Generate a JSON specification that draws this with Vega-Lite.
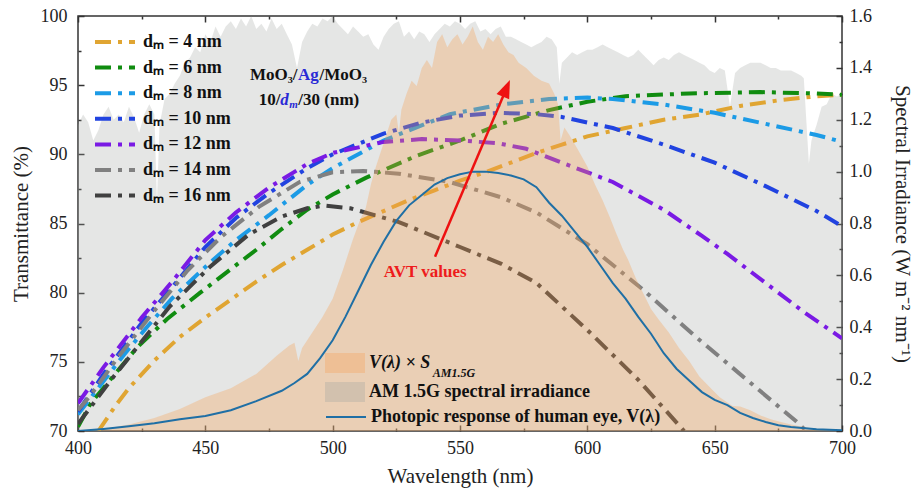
{
"$schema":"https://vega.github.io/schema/vega-lite/v6.json",
"width":764,"height":415,
"autosize":{"type":"none"},
"padding":{"left":78,"top":16,"right":78,"bottom":64},
"background":"white",
"config":{
 "view":{"stroke":"#333","strokeWidth":1.5},
 "font":"Liberation Serif",
 "axis":{"labelFont":"Liberation Serif","labelFontSize":18,"labelColor":"#222","titleFont":"Liberation Serif","titleFontSize":21,"titleFontWeight":"normal","titleColor":"#222","tickColor":"#333","tickWidth":1.5,"grid":false,"domain":false}
},
"datasets":{
 "am":[{"wl":400,"irr":1.18},{"wl":402,"irr":1.22},{"wl":404,"irr":1.19},{"wl":406,"irr":1.12},{"wl":408,"irr":1.16},{"wl":410,"irr":1.22},{"wl":412,"irr":1.25},{"wl":414,"irr":1.2},{"wl":416,"irr":1.22},{"wl":418,"irr":1.19},{"wl":420,"irr":1.25},{"wl":422,"irr":1.21},{"wl":424,"irr":1.15},{"wl":426,"irr":1.22},{"wl":428,"irr":1.26},{"wl":430,"irr":1.22},{"wl":431,"irr":0.88},{"wl":432,"irr":1.18},{"wl":434,"irr":1.28},{"wl":436,"irr":1.3},{"wl":438,"irr":1.34},{"wl":440,"irr":1.37},{"wl":442,"irr":1.42},{"wl":444,"irr":1.44},{"wl":446,"irr":1.48},{"wl":448,"irr":1.46},{"wl":450,"irr":1.53},{"wl":452,"irr":1.5},{"wl":454,"irr":1.56},{"wl":456,"irr":1.52},{"wl":458,"irr":1.56},{"wl":460,"irr":1.58},{"wl":462,"irr":1.55},{"wl":464,"irr":1.59},{"wl":466,"irr":1.56},{"wl":468,"irr":1.6},{"wl":470,"irr":1.55},{"wl":472,"irr":1.57},{"wl":474,"irr":1.54},{"wl":476,"irr":1.59},{"wl":478,"irr":1.55},{"wl":480,"irr":1.57},{"wl":482,"irr":1.53},{"wl":484,"irr":1.49},{"wl":486,"irr":1.4},{"wl":488,"irr":1.5},{"wl":490,"irr":1.54},{"wl":492,"irr":1.57},{"wl":494,"irr":1.56},{"wl":496,"irr":1.59},{"wl":498,"irr":1.58},{"wl":500,"irr":1.6},{"wl":502,"irr":1.57},{"wl":504,"irr":1.55},{"wl":506,"irr":1.53},{"wl":508,"irr":1.56},{"wl":510,"irr":1.54},{"wl":512,"irr":1.52},{"wl":514,"irr":1.53},{"wl":516,"irr":1.49},{"wl":518,"irr":1.47},{"wl":520,"irr":1.52},{"wl":522,"irr":1.55},{"wl":524,"irr":1.57},{"wl":526,"irr":1.58},{"wl":528,"irr":1.52},{"wl":530,"irr":1.54},{"wl":532,"irr":1.51},{"wl":534,"irr":1.54},{"wl":536,"irr":1.53},{"wl":538,"irr":1.5},{"wl":540,"irr":1.53},{"wl":542,"irr":1.55},{"wl":544,"irr":1.57},{"wl":546,"irr":1.56},{"wl":548,"irr":1.58},{"wl":550,"irr":1.57},{"wl":552,"irr":1.55},{"wl":554,"irr":1.57},{"wl":556,"irr":1.58},{"wl":558,"irr":1.54},{"wl":560,"irr":1.55},{"wl":562,"irr":1.53},{"wl":564,"irr":1.55},{"wl":566,"irr":1.56},{"wl":568,"irr":1.52},{"wl":570,"irr":1.52},{"wl":572,"irr":1.51},{"wl":574,"irr":1.5},{"wl":576,"irr":1.49},{"wl":578,"irr":1.48},{"wl":580,"irr":1.49},{"wl":582,"irr":1.5},{"wl":584,"irr":1.52},{"wl":586,"irr":1.51},{"wl":588,"irr":1.48},{"wl":589,"irr":1.34},{"wl":590,"irr":1.42},{"wl":592,"irr":1.44},{"wl":594,"irr":1.46},{"wl":596,"irr":1.45},{"wl":598,"irr":1.46},{"wl":600,"irr":1.47},{"wl":602,"irr":1.47},{"wl":604,"irr":1.48},{"wl":606,"irr":1.49},{"wl":608,"irr":1.48},{"wl":610,"irr":1.47},{"wl":612,"irr":1.46},{"wl":614,"irr":1.45},{"wl":616,"irr":1.44},{"wl":618,"irr":1.45},{"wl":620,"irr":1.47},{"wl":622,"irr":1.45},{"wl":624,"irr":1.43},{"wl":626,"irr":1.41},{"wl":628,"irr":1.43},{"wl":630,"irr":1.44},{"wl":632,"irr":1.43},{"wl":634,"irr":1.45},{"wl":636,"irr":1.46},{"wl":638,"irr":1.45},{"wl":640,"irr":1.44},{"wl":642,"irr":1.43},{"wl":644,"irr":1.42},{"wl":646,"irr":1.41},{"wl":648,"irr":1.39},{"wl":650,"irr":1.38},{"wl":652,"irr":1.4},{"wl":654,"irr":1.39},{"wl":656,"irr":1.25},{"wl":658,"irr":1.38},{"wl":660,"irr":1.4},{"wl":662,"irr":1.41},{"wl":664,"irr":1.42},{"wl":666,"irr":1.42},{"wl":668,"irr":1.42},{"wl":670,"irr":1.41},{"wl":672,"irr":1.4},{"wl":674,"irr":1.4},{"wl":676,"irr":1.39},{"wl":678,"irr":1.39},{"wl":680,"irr":1.39},{"wl":682,"irr":1.38},{"wl":684,"irr":1.37},{"wl":685,"irr":1.36},{"wl":687,"irr":1.03},{"wl":688,"irr":1.12},{"wl":690,"irr":1.18},{"wl":692,"irr":1.25},{"wl":694,"irr":1.26},{"wl":696,"irr":1.3},{"wl":698,"irr":1.29},{"wl":700,"irr":1.3}],
 "vs":[{"wl":400,"v":0.002},{"wl":410,"v":0.008},{"wl":420,"v":0.025},{"wl":430,"v":0.05},{"wl":440,"v":0.085},{"wl":450,"v":0.13},{"wl":460,"v":0.165},{"wl":470,"v":0.22},{"wl":478,"v":0.29},{"wl":483,"v":0.33},{"wl":485,"v":0.34},{"wl":486.5,"v":0.27},{"wl":488,"v":0.32},{"wl":492,"v":0.38},{"wl":496,"v":0.44},{"wl":500,"v":0.51},{"wl":504,"v":0.62},{"wl":508,"v":0.74},{"wl":511,"v":0.82},{"wl":513,"v":0.86},{"wl":515,"v":0.95},{"wl":517,"v":1.02},{"wl":519,"v":1.08},{"wl":521,"v":1.14},{"wl":523,"v":1.2},{"wl":525,"v":1.22},{"wl":526,"v":1.15},{"wl":527,"v":1.24},{"wl":529,"v":1.3},{"wl":531,"v":1.35},{"wl":533,"v":1.33},{"wl":535,"v":1.4},{"wl":537,"v":1.43},{"wl":539,"v":1.4},{"wl":541,"v":1.5},{"wl":543,"v":1.53},{"wl":545,"v":1.48},{"wl":547,"v":1.51},{"wl":549,"v":1.53},{"wl":551,"v":1.49},{"wl":553,"v":1.52},{"wl":555,"v":1.56},{"wl":557,"v":1.5},{"wl":559,"v":1.47},{"wl":561,"v":1.52},{"wl":563,"v":1.5},{"wl":565,"v":1.53},{"wl":567,"v":1.49},{"wl":569,"v":1.46},{"wl":571,"v":1.45},{"wl":573,"v":1.42},{"wl":576,"v":1.4},{"wl":579,"v":1.37},{"wl":582,"v":1.35},{"wl":585,"v":1.34},{"wl":587,"v":1.3},{"wl":588.5,"v":1.26},{"wl":589.5,"v":1.12},{"wl":591,"v":1.17},{"wl":593,"v":1.14},{"wl":596,"v":1.09},{"wl":600,"v":1.02},{"wl":603,"v":0.95},{"wl":606,"v":0.89},{"wl":609,"v":0.82},{"wl":611,"v":0.77},{"wl":614,"v":0.7},{"wl":616,"v":0.66},{"wl":619,"v":0.59},{"wl":622,"v":0.53},{"wl":625,"v":0.47},{"wl":628,"v":0.43},{"wl":632,"v":0.38},{"wl":636,"v":0.32},{"wl":640,"v":0.27},{"wl":644,"v":0.21},{"wl":648,"v":0.17},{"wl":652,"v":0.13},{"wl":655,"v":0.11},{"wl":657,"v":0.096},{"wl":660,"v":0.094},{"wl":664,"v":0.08},{"wl":668,"v":0.06},{"wl":672,"v":0.045},{"wl":676,"v":0.035},{"wl":680,"v":0.025},{"wl":685,"v":0.015},{"wl":690,"v":0.008},{"wl":695,"v":0.004},{"wl":700,"v":0.002}],
 "ph":[{"wl":400,"v":0.0},{"wl":410,"v":0.008},{"wl":420,"v":0.018},{"wl":430,"v":0.03},{"wl":440,"v":0.045},{"wl":450,"v":0.058},{"wl":460,"v":0.08},{"wl":470,"v":0.115},{"wl":480,"v":0.155},{"wl":485,"v":0.185},{"wl":490,"v":0.22},{"wl":495,"v":0.28},{"wl":500,"v":0.35},{"wl":505,"v":0.44},{"wl":510,"v":0.54},{"wl":515,"v":0.64},{"wl":520,"v":0.73},{"wl":525,"v":0.81},{"wl":530,"v":0.87},{"wl":535,"v":0.91},{"wl":540,"v":0.95},{"wl":545,"v":0.975},{"wl":550,"v":0.99},{"wl":555,"v":1.0},{"wl":560,"v":1.0},{"wl":565,"v":0.995},{"wl":570,"v":0.985},{"wl":575,"v":0.97},{"wl":580,"v":0.94},{"wl":585,"v":0.88},{"wl":590,"v":0.83},{"wl":595,"v":0.77},{"wl":600,"v":0.71},{"wl":605,"v":0.64},{"wl":610,"v":0.57},{"wl":615,"v":0.51},{"wl":620,"v":0.44},{"wl":625,"v":0.375},{"wl":630,"v":0.3},{"wl":635,"v":0.24},{"wl":640,"v":0.195},{"wl":645,"v":0.15},{"wl":650,"v":0.12},{"wl":655,"v":0.1},{"wl":660,"v":0.07},{"wl":665,"v":0.05},{"wl":670,"v":0.035},{"wl":675,"v":0.022},{"wl":680,"v":0.015},{"wl":690,"v":0.007},{"wl":700,"v":0.003}],
 "trans":[
 {"series":"dₘ = 4 nm","wl":408,"T":70.0},{"series":"dₘ = 4 nm","wl":415,"T":71.9},{"series":"dₘ = 4 nm","wl":420,"T":73.1},{"series":"dₘ = 4 nm","wl":430,"T":75.1},{"series":"dₘ = 4 nm","wl":440,"T":76.8},{"series":"dₘ = 4 nm","wl":450,"T":78.2},{"series":"dₘ = 4 nm","wl":460,"T":79.5},{"series":"dₘ = 4 nm","wl":470,"T":80.8},{"series":"dₘ = 4 nm","wl":480,"T":82.0},{"series":"dₘ = 4 nm","wl":490,"T":83.1},{"series":"dₘ = 4 nm","wl":500,"T":84.2},{"series":"dₘ = 4 nm","wl":510,"T":85.1},{"series":"dₘ = 4 nm","wl":520,"T":85.9},{"series":"dₘ = 4 nm","wl":530,"T":86.7},{"series":"dₘ = 4 nm","wl":540,"T":87.4},{"series":"dₘ = 4 nm","wl":550,"T":88.1},{"series":"dₘ = 4 nm","wl":560,"T":88.7},{"series":"dₘ = 4 nm","wl":570,"T":89.4},{"series":"dₘ = 4 nm","wl":580,"T":90.1},{"series":"dₘ = 4 nm","wl":590,"T":90.7},{"series":"dₘ = 4 nm","wl":600,"T":91.3},{"series":"dₘ = 4 nm","wl":615,"T":91.9},{"series":"dₘ = 4 nm","wl":630,"T":92.5},{"series":"dₘ = 4 nm","wl":645,"T":92.9},{"series":"dₘ = 4 nm","wl":660,"T":93.5},{"series":"dₘ = 4 nm","wl":675,"T":93.9},{"series":"dₘ = 4 nm","wl":690,"T":94.2},{"series":"dₘ = 4 nm","wl":700,"T":94.3},
 {"series":"dₘ = 6 nm","wl":400,"T":70.3},{"series":"dₘ = 6 nm","wl":405,"T":72.0},{"series":"dₘ = 6 nm","wl":414,"T":74.0},{"series":"dₘ = 6 nm","wl":423,"T":76.0},{"series":"dₘ = 6 nm","wl":435,"T":78.1},{"series":"dₘ = 6 nm","wl":448,"T":80.0},{"series":"dₘ = 6 nm","wl":460,"T":81.7},{"series":"dₘ = 6 nm","wl":470,"T":83.1},{"series":"dₘ = 6 nm","wl":480,"T":84.6},{"series":"dₘ = 6 nm","wl":490,"T":86.0},{"series":"dₘ = 6 nm","wl":500,"T":87.1},{"series":"dₘ = 6 nm","wl":513,"T":88.3},{"series":"dₘ = 6 nm","wl":533,"T":89.9},{"series":"dₘ = 6 nm","wl":550,"T":91.0},{"series":"dₘ = 6 nm","wl":566,"T":92.2},{"series":"dₘ = 6 nm","wl":585,"T":93.2},{"series":"dₘ = 6 nm","wl":600,"T":93.8},{"series":"dₘ = 6 nm","wl":615,"T":94.2},{"series":"dₘ = 6 nm","wl":640,"T":94.4},{"series":"dₘ = 6 nm","wl":668,"T":94.5},{"series":"dₘ = 6 nm","wl":690,"T":94.4},{"series":"dₘ = 6 nm","wl":700,"T":94.3},
 {"series":"dₘ = 8 nm","wl":400,"T":71.2},{"series":"dₘ = 8 nm","wl":410,"T":73.6},{"series":"dₘ = 8 nm","wl":418,"T":75.5},{"series":"dₘ = 8 nm","wl":427,"T":77.5},{"series":"dₘ = 8 nm","wl":437,"T":79.6},{"series":"dₘ = 8 nm","wl":452,"T":82.2},{"series":"dₘ = 8 nm","wl":462,"T":83.8},{"series":"dₘ = 8 nm","wl":475,"T":85.6},{"series":"dₘ = 8 nm","wl":490,"T":87.8},{"series":"dₘ = 8 nm","wl":500,"T":89.0},{"series":"dₘ = 8 nm","wl":520,"T":91.0},{"series":"dₘ = 8 nm","wl":546,"T":92.9},{"series":"dₘ = 8 nm","wl":566,"T":93.6},{"series":"dₘ = 8 nm","wl":585,"T":94.0},{"series":"dₘ = 8 nm","wl":600,"T":94.1},{"series":"dₘ = 8 nm","wl":610,"T":94.0},{"series":"dₘ = 8 nm","wl":630,"T":93.6},{"series":"dₘ = 8 nm","wl":650,"T":93.0},{"series":"dₘ = 8 nm","wl":670,"T":92.2},{"series":"dₘ = 8 nm","wl":690,"T":91.4},{"series":"dₘ = 8 nm","wl":700,"T":90.9},
 {"series":"dₘ = 10 nm","wl":400,"T":71.4},{"series":"dₘ = 10 nm","wl":410,"T":74.1},{"series":"dₘ = 10 nm","wl":425,"T":77.8},{"series":"dₘ = 10 nm","wl":437,"T":80.4},{"series":"dₘ = 10 nm","wl":450,"T":83.3},{"series":"dₘ = 10 nm","wl":462,"T":85.4},{"series":"dₘ = 10 nm","wl":475,"T":87.2},{"series":"dₘ = 10 nm","wl":490,"T":89.0},{"series":"dₘ = 10 nm","wl":500,"T":90.0},{"series":"dₘ = 10 nm","wl":520,"T":91.5},{"series":"dₘ = 10 nm","wl":535,"T":92.3},{"series":"dₘ = 10 nm","wl":550,"T":92.8},{"series":"dₘ = 10 nm","wl":565,"T":93.0},{"series":"dₘ = 10 nm","wl":580,"T":92.9},{"series":"dₘ = 10 nm","wl":590,"T":92.7},{"series":"dₘ = 10 nm","wl":610,"T":91.9},{"series":"dₘ = 10 nm","wl":630,"T":90.7},{"series":"dₘ = 10 nm","wl":650,"T":89.4},{"series":"dₘ = 10 nm","wl":670,"T":87.7},{"series":"dₘ = 10 nm","wl":690,"T":85.9},{"series":"dₘ = 10 nm","wl":700,"T":84.8},
 {"series":"dₘ = 12 nm","wl":400,"T":72.0},{"series":"dₘ = 12 nm","wl":410,"T":74.6},{"series":"dₘ = 12 nm","wl":425,"T":78.2},{"series":"dₘ = 12 nm","wl":437,"T":80.8},{"series":"dₘ = 12 nm","wl":450,"T":83.8},{"series":"dₘ = 12 nm","wl":462,"T":85.8},{"series":"dₘ = 12 nm","wl":475,"T":87.6},{"series":"dₘ = 12 nm","wl":490,"T":89.3},{"series":"dₘ = 12 nm","wl":500,"T":90.1},{"series":"dₘ = 12 nm","wl":520,"T":90.9},{"series":"dₘ = 12 nm","wl":535,"T":91.1},{"series":"dₘ = 12 nm","wl":550,"T":91.0},{"series":"dₘ = 12 nm","wl":565,"T":90.8},{"series":"dₘ = 12 nm","wl":576,"T":90.4},{"series":"dₘ = 12 nm","wl":590,"T":89.4},{"series":"dₘ = 12 nm","wl":610,"T":88.0},{"series":"dₘ = 12 nm","wl":630,"T":86.0},{"series":"dₘ = 12 nm","wl":645,"T":84.1},{"series":"dₘ = 12 nm","wl":655,"T":82.8},{"series":"dₘ = 12 nm","wl":670,"T":80.7},{"series":"dₘ = 12 nm","wl":685,"T":78.6},{"series":"dₘ = 12 nm","wl":700,"T":76.7},
 {"series":"dₘ = 14 nm","wl":400,"T":71.5},{"series":"dₘ = 14 nm","wl":405,"T":72.6},{"series":"dₘ = 14 nm","wl":416,"T":75.4},{"series":"dₘ = 14 nm","wl":430,"T":78.7},{"series":"dₘ = 14 nm","wl":443,"T":81.6},{"series":"dₘ = 14 nm","wl":456,"T":84.0},{"series":"dₘ = 14 nm","wl":471,"T":86.2},{"series":"dₘ = 14 nm","wl":487,"T":88.0},{"series":"dₘ = 14 nm","wl":500,"T":88.7},{"series":"dₘ = 14 nm","wl":512,"T":88.8},{"series":"dₘ = 14 nm","wl":526,"T":88.6},{"series":"dₘ = 14 nm","wl":546,"T":88.0},{"series":"dₘ = 14 nm","wl":566,"T":86.9},{"series":"dₘ = 14 nm","wl":580,"T":85.8},{"series":"dₘ = 14 nm","wl":600,"T":83.5},{"series":"dₘ = 14 nm","wl":622,"T":80.2},{"series":"dₘ = 14 nm","wl":642,"T":76.9},{"series":"dₘ = 14 nm","wl":662,"T":73.8},{"series":"dₘ = 14 nm","wl":682,"T":70.7},{"series":"dₘ = 14 nm","wl":686,"T":70.0},
 {"series":"dₘ = 16 nm","wl":400,"T":70.5},{"series":"dₘ = 16 nm","wl":402,"T":71.0},{"series":"dₘ = 16 nm","wl":413,"T":73.7},{"series":"dₘ = 16 nm","wl":423,"T":76.0},{"series":"dₘ = 16 nm","wl":436,"T":79.0},{"series":"dₘ = 16 nm","wl":452,"T":81.9},{"series":"dₘ = 16 nm","wl":467,"T":84.2},{"series":"dₘ = 16 nm","wl":480,"T":85.5},{"series":"dₘ = 16 nm","wl":490,"T":86.1},{"series":"dₘ = 16 nm","wl":497,"T":86.3},{"series":"dₘ = 16 nm","wl":507,"T":86.1},{"series":"dₘ = 16 nm","wl":526,"T":85.1},{"series":"dₘ = 16 nm","wl":550,"T":83.3},{"series":"dₘ = 16 nm","wl":566,"T":82.1},{"series":"dₘ = 16 nm","wl":580,"T":80.7},{"series":"dₘ = 16 nm","wl":600,"T":77.3},{"series":"dₘ = 16 nm","wl":620,"T":73.7},{"series":"dₘ = 16 nm","wl":638,"T":70.0}
 ]
},
"resolve":{"scale":{"x":"independent","y":"independent","color":"independent","fill":"independent","stroke":"independent"}},
"layer":[
 {
  "data":{"name":"am"},
  "mark":{"type":"area","opacity":0.27,"clip":true},
  "encoding":{
   "x":{"field":"wl","type":"quantitative","scale":{"domain":[400,700],"nice":false,"zero":false},
        "axis":{"orient":"bottom","values":[400,450,500,550,600,650,700],"tickSize":-6,"labelPadding":14,"title":"Wavelength (nm)","titlePadding":8,"labelFlush":false}},
   "y":{"field":"irr","type":"quantitative","scale":{"domain":[0,1.6],"nice":false,"zero":true},
        "axis":{"orient":"right","values":[0,0.2,0.4,0.6,0.8,1.0,1.2,1.4,1.6],"format":".1f","tickSize":-6,"labelPadding":13,"title":"Spectral Irradiance (W m⁻² nm⁻¹)","titlePadding":20,"labelFlush":false}},
   "fill":{"datum":"am","type":"nominal",
     "scale":{"domain":["am"],"range":["#a0a4a0"]},
     "legend":{"orient":"none","legendX":257,"legendY":366,"title":null,"symbolType":"M-2,-1H2V1H-2Z","symbolSize":400,"symbolOpacity":0.32,"symbolStrokeWidth":0,
       "labelExpr":"'AM 1.5G spectral irradiance'",
       "labelFont":"Liberation Serif","labelFontSize":18,"labelFontWeight":"bold","labelColor":"#111","labelOffset":14,"padding":0,"labelLimit":400}}
  }
 },
 {
  "data":{"name":"trans"},
  "mark":{"type":"line","strokeWidth":4,"strokeDash":[16,7,4,7],"clip":true},
  "encoding":{
   "x":{"field":"wl","type":"quantitative","scale":{"domain":[400,700],"nice":false,"zero":false},
        "axis":{"orient":"bottom","values":[425,475,525,575,625,675],"tickSize":-3,"labels":false,"title":null}},
   "y":{"field":"T","type":"quantitative","scale":{"domain":[70,100],"nice":false,"zero":false},
        "axis":{"orient":"left","values":[70,75,80,85,90,95,100],"tickSize":-6,"labelPadding":17,"title":"Transmittance (%)","titlePadding":9,"labelFlush":false}},
   "color":{"field":"series","type":"nominal",
     "scale":{"domain":["dₘ = 4 nm","dₘ = 6 nm","dₘ = 8 nm","dₘ = 10 nm","dₘ = 12 nm","dₘ = 14 nm","dₘ = 16 nm"],
              "range":["#e0a532","#108c10","#1c9be6","#2143e0","#7a1ae4","#808080","#404040"]},
     "legend":{"orient":"none","legendX":25,"legendY":14,"title":null,"symbolType":"M-2,0H2","symbolSize":400,"symbolStrokeWidth":4,"symbolDash":[16,7,4,7],"labelFont":"Liberation Serif","labelFontSize":18,"labelFontWeight":"bold","labelColor":"#111","rowPadding":4.6,"labelOffset":16,"padding":0,"labelLimit":400}}
  }
 },
 {
  "layer":[
   {"data":{"name":"vs"},
    "mark":{"type":"area","opacity":0.32,"clip":true},
    "encoding":{
     "x":{"field":"wl","type":"quantitative","scale":{"domain":[400,700],"nice":false,"zero":false},
          "axis":{"orient":"top","values":[400,450,500,550,600,650,700],"tickSize":-6,"labels":false,"title":null}},
     "y":{"field":"v","type":"quantitative","scale":{"domain":[0,1.6],"nice":false,"zero":true},
          "axis":{"orient":"right","values":[0.1,0.3,0.5,0.7,0.9,1.1,1.3,1.5],"tickSize":-3,"labels":false,"title":null}},
     "fill":{"datum":"vs","type":"nominal",
       "scale":{"domain":["vs"],"range":["#f5a050"]},
       "legend":{"orient":"none","legendX":257,"legendY":337,"title":null,"symbolType":"M-2,-1H2V1H-2Z","symbolSize":400,"symbolOpacity":0.32,"symbolStrokeWidth":0,
         "labelExpr":"'V(λ) × S'",
         "labelFont":"Liberation Serif","labelFontSize":18,"labelFontWeight":"bold","labelFontStyle":"italic","labelColor":"#111","labelOffset":14,"padding":0,"labelLimit":400}}
    }},
   {"data":{"name":"ph"},
    "mark":{"type":"line","strokeWidth":2,"clip":true},
    "encoding":{
     "x":{"field":"wl","type":"quantitative"},
     "y":{"field":"v","type":"quantitative"},
     "stroke":{"datum":"ph","type":"nominal",
       "scale":{"domain":["ph"],"range":["#1f6fa5"]},
       "legend":{"orient":"none","legendX":257,"legendY":390,"title":null,"symbolType":"M-2,0H2","symbolSize":400,"symbolStrokeWidth":2,
         "labelExpr":"'Photopic response of human eye, V(λ)'",
         "labelFont":"Liberation Serif","labelFontSize":18,"labelFontWeight":"bold","labelColor":"#111","labelOffset":14,"padding":0,"labelLimit":400}}
    }}
  ]
 },
 {
  "data":{"values":[{}]},
  "layer":[
   {"mark":{"type":"text","text":"MoO₃/","fontSize":17,"fontWeight":"bold","align":"right","baseline":"middle","dx":-11,"color":"#111"},
    "encoding":{
     "x":{"datum":490.5,"type":"quantitative","scale":{"domain":[400,700],"nice":false,"zero":false},
          "axis":{"orient":"top","values":[425,475,525,575,625,675],"tickSize":-3,"labels":false,"title":null}},
     "y":{"datum":95.73,"type":"quantitative","scale":{"domain":[70,100],"nice":false,"zero":false},
          "axis":{"orient":"left","values":[72.5,77.5,82.5,87.5,92.5,97.5],"tickSize":-3,"labels":false,"title":null}}
    }},
   {"mark":{"type":"text","text":"Ag","fontSize":17,"fontWeight":"bold","align":"center","baseline":"middle","color":"#2b2bd6"},
    "encoding":{"x":{"datum":490.5,"type":"quantitative"},"y":{"datum":95.73,"type":"quantitative"}}},
   {"mark":{"type":"text","text":"/MoO₃","fontSize":17,"fontWeight":"bold","align":"left","baseline":"middle","dx":11,"color":"#111"},
    "encoding":{"x":{"datum":490.5,"type":"quantitative"},"y":{"datum":95.73,"type":"quantitative"}}},
   {"mark":{"type":"text","text":"10/","fontSize":17,"fontWeight":"bold","align":"right","baseline":"middle","dx":-9,"color":"#111"},
    "encoding":{"x":{"datum":483.0,"type":"quantitative"},"y":{"datum":93.93,"type":"quantitative"}}},
   {"mark":{"type":"text","text":"d","fontSize":17,"fontWeight":"bold","fontStyle":"italic","align":"left","baseline":"middle","dx":-9,"color":"#2b2bd6"},
    "encoding":{"x":{"datum":483.0,"type":"quantitative"},"y":{"datum":93.93,"type":"quantitative"}}},
   {"mark":{"type":"text","text":"m","fontSize":11,"fontWeight":"bold","fontStyle":"italic","align":"left","baseline":"middle","dx":0,"dy":5,"color":"#2b2bd6"},
    "encoding":{"x":{"datum":483.0,"type":"quantitative"},"y":{"datum":93.93,"type":"quantitative"}}},
   {"mark":{"type":"text","text":"/30 (nm)","fontSize":17,"fontWeight":"bold","align":"left","baseline":"middle","dx":9,"color":"#111"},
    "encoding":{"x":{"datum":483.0,"type":"quantitative"},"y":{"datum":93.93,"type":"quantitative"}}},
   {"mark":{"type":"text","text":"AVT values","fontSize":17,"fontWeight":"bold","align":"center","baseline":"middle","color":"#ee1c1c"},
    "encoding":{"x":{"datum":536.3,"type":"quantitative"},"y":{"datum":81.5,"type":"quantitative"}}},
   {"mark":{"type":"text","text":"AM1.5G","fontSize":12,"fontWeight":"bold","fontStyle":"italic","align":"left","baseline":"middle","color":"#111"},
    "encoding":{"x":{"datum":539.3,"type":"quantitative"},"y":{"datum":74.2,"type":"quantitative"}}},
   {"mark":{"type":"rule","color":"#ee1111","strokeWidth":2.5},
    "encoding":{"x":{"datum":540.2,"type":"quantitative"},"y":{"datum":82.6,"type":"quantitative"},"x2":{"datum":568.1},"y2":{"datum":94.71}}},
   {"mark":{"type":"point","shape":"M0,0L-0.38,1L0.38,1Z","size":1300,"angle":23,"filled":true,"color":"#ee1111","opacity":1,"strokeWidth":0},
    "encoding":{"x":{"datum":569.6,"type":"quantitative"},"y":{"datum":95.37,"type":"quantitative"}}}
  ]
 }
]
}
